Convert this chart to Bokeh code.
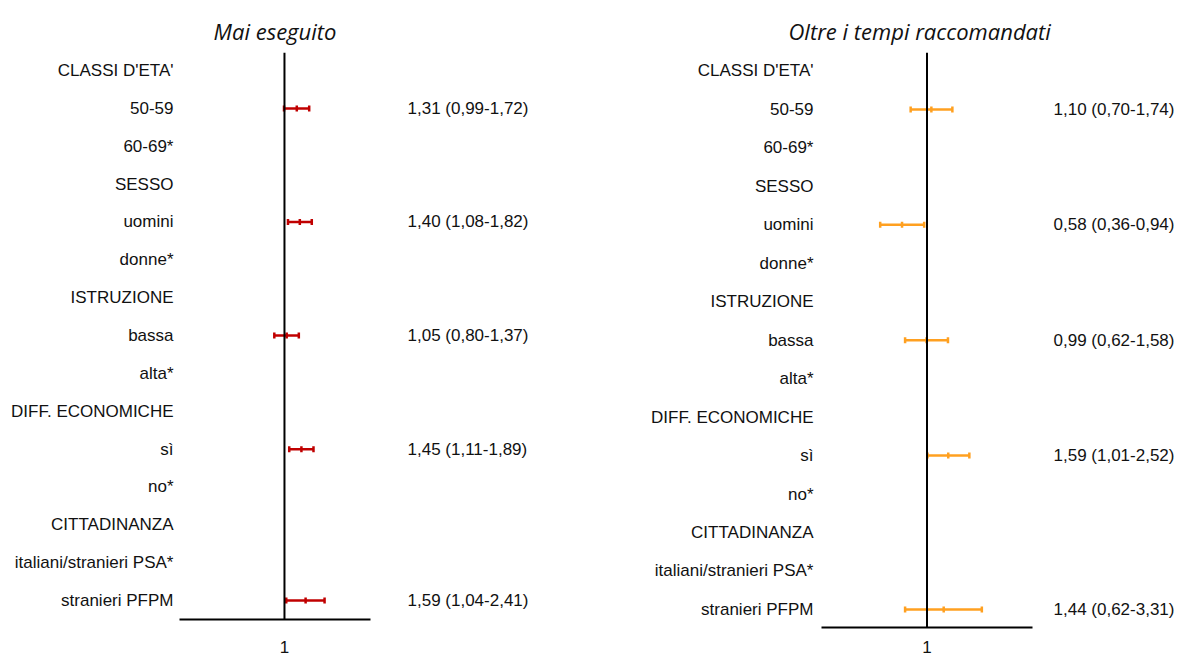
import math
from bokeh.plotting import figure
from bokeh.models import Range1d, FixedTicker, Span, LinearAxis, ColumnDataSource
from bokeh.layouts import row, column
from bokeh.embed import file_html
from bokeh.resources import INLINE

# ---- data ----
row_labels = ["CLASSI D'ETA'", "50-59", "60-69*", "SESSO", "uomini", "donne*",
              "ISTRUZIONE", "bassa", "alta*", "DIFF. ECONOMICHE", "sì", "no*",
              "CITTADINANZA", "italiani/stranieri PSA*", "stranieri PFPM"]
estimate_rows = ["50-59", "uomini", "bassa", "sì", "stranieri PFPM"]

mai_or = [1.31, 1.40, 1.05, 1.45, 1.59]
mai_lo = [0.99, 1.08, 0.80, 1.11, 1.04]
mai_hi = [1.72, 1.82, 1.37, 1.89, 2.41]

oltre_or = [1.10, 0.58, 0.99, 1.59, 1.44]
oltre_lo = [0.70, 0.36, 0.62, 1.01, 0.62]
oltre_hi = [1.74, 0.94, 1.58, 2.52, 3.31]

titles = ["Mai eseguito", "Oltre i tempi raccomandati"]
colors = ["#C00000", "#FFA020"]

LABEL_FONT = "Liberation Sans"
TEXT_COLOR = "#111111"


def fmt(v):
    return f"{v:.2f}".replace(".", ",")


def panel(title, orv, lo, hi, color, width, height, x_end, y_start, y_end,
          b_left, b_right, b_bottom, lab_standoff, ci_standoff, x_standoff,
          title_align, title_offset):
    p = figure(width=width, height=height, x_axis_type="log",
               x_range=Range1d(0.1, x_end), y_range=Range1d(y_start, y_end),
               output_backend="svg", toolbar_location=None,
               min_border_left=b_left, min_border_right=b_right,
               min_border_top=52, min_border_bottom=b_bottom)
    p.title.text = title
    p.title.align = title_align
    p.title.offset = title_offset
    p.title.text_font = "Open Sans"
    p.title.text_font_style = "italic"
    p.title.text_font_size = "22px"
    p.title.text_color = TEXT_COLOR
    p.title.standoff = 14
    p.outline_line_color = None
    p.xgrid.visible = False
    p.ygrid.visible = False
    p.background_fill_color = "white"
    p.border_fill_color = "white"

    ys = [row_labels.index(r) for r in estimate_rows]

    # left category labels
    ya = p.yaxis[0]
    ya.ticker = FixedTicker(ticks=list(range(len(row_labels))))
    ya.major_label_overrides = {i: t for i, t in enumerate(row_labels)}
    ya.axis_line_color = None
    ya.major_tick_line_color = None
    ya.minor_tick_line_color = None
    ya.major_label_standoff = lab_standoff
    ya.major_label_text_font = LABEL_FONT
    ya.major_label_text_font_size = "17px"
    ya.major_label_text_color = TEXT_COLOR

    # right CI labels
    ra = LinearAxis(ticker=FixedTicker(ticks=ys))
    ra.major_label_overrides = {y: f"{fmt(o)} ({fmt(l)}-{fmt(h)})"
                                for y, o, l, h in zip(ys, orv, lo, hi)}
    ra.axis_line_color = None
    ra.major_tick_line_color = None
    ra.minor_tick_line_color = None
    ra.major_label_standoff = ci_standoff
    ra.major_label_text_font = LABEL_FONT
    ra.major_label_text_font_size = "17px"
    ra.major_label_text_color = TEXT_COLOR
    p.add_layout(ra, "right")

    xa = p.xaxis[0]
    xa.ticker = FixedTicker(ticks=[1])
    xa.major_label_overrides = {1: "1"}
    xa.axis_line_color = "black"
    xa.axis_line_width = 2
    xa.major_tick_line_color = None
    xa.minor_tick_line_color = None
    xa.major_label_standoff = x_standoff
    xa.major_label_text_font = LABEL_FONT
    xa.major_label_text_font_size = "17px"
    xa.major_label_text_color = TEXT_COLOR

    p.add_layout(Span(location=1, dimension="height", line_color="black",
                      line_width=2))

    src = ColumnDataSource(dict(y=ys, orv=orv, lo=lo, hi=hi))
    p.segment(x0="lo", x1="hi", y0="y", y1="y", source=src,
              line_color=color, line_width=2.5)
    for col in ("lo", "hi", "orv"):
        p.scatter(x=col, y="y", source=src, marker="dash", angle=math.pi / 2,
                  size=6, line_color=color, line_width=2.5)
    return p


p1 = panel(titles[0], mai_or, mai_lo, mai_hi, colors[0], 598, 655, 6.6,
           14.5, -0.477, 179, 228, 35, 0, 31, 15, "center", 0)
p2 = panel(titles[1], oltre_or, oltre_lo, oltre_hi, colors[1], 582, 655, 10,
           14.47, -0.48, 223, 148, 27, 2, 15, 7, "left", -33)

layout = row(column(p1), column(p2))
open("out.html", "w").write(file_html(layout, INLINE))
